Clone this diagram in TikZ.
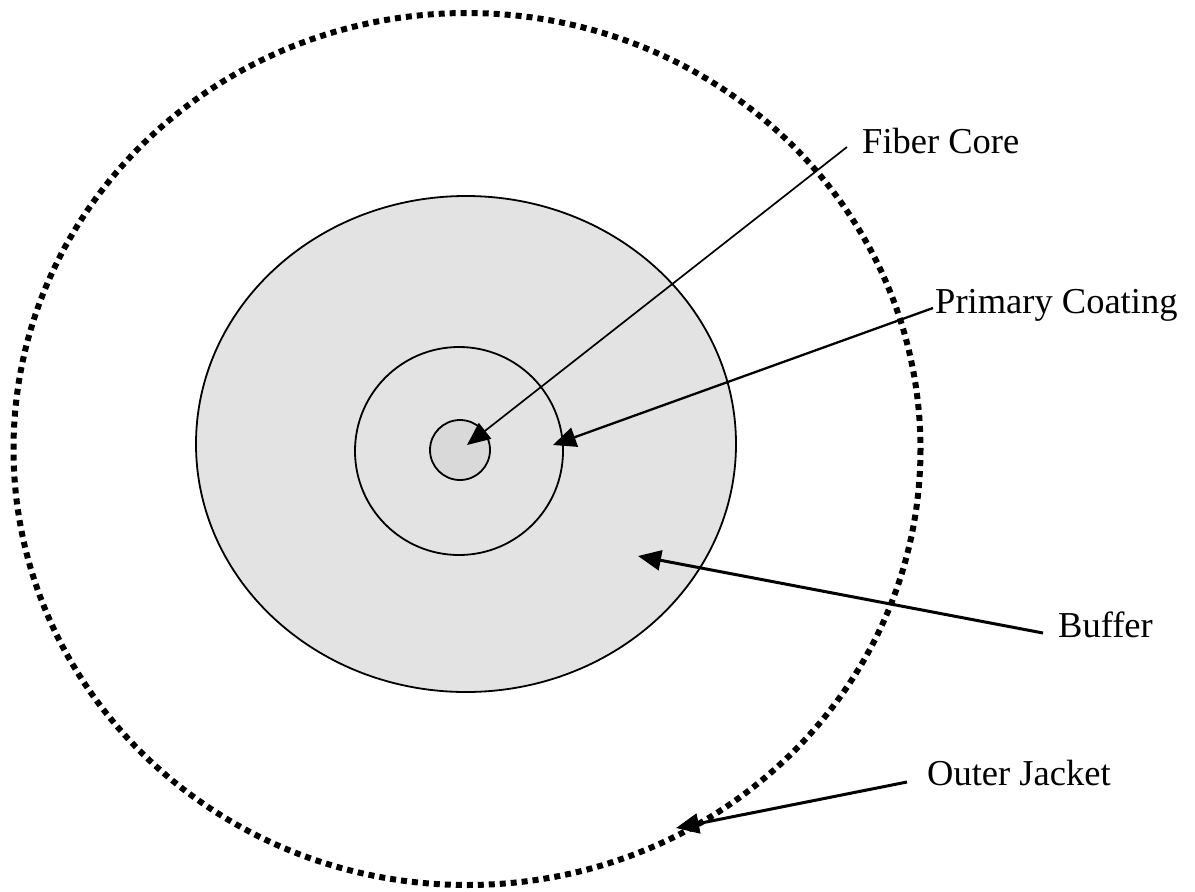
\documentclass[tikz,border=0pt]{standalone}
\usepackage{fontspec}
\setmainfont{Liberation Serif}
\usetikzlibrary{arrows.meta}
\definecolor{bufgray}{RGB}{227,227,227}
\definecolor{coregray}{RGB}{217,217,217}
\tikzset{
  lbl/.style={anchor=base west, inner sep=0pt, font=\fontsize{36.5}{40}\selectfont},
  ptr/.style={-{Triangle[length=23pt,width=20pt]}, line width=2pt},
  ring/.style={draw=black, line width=1.8pt},
  jacket/.style={draw=black, line width=6pt, dash pattern=on 6pt off 5pt}
}
\begin{document}
\begin{tikzpicture}[x=1pt,y=-1pt]
\useasboundingbox (0,0) rectangle (1195,892);
% shapes
\draw[jacket] (467,449) ellipse [x radius=453.5, y radius=436];
\draw[ring, fill=bufgray] (466,444) ellipse [x radius=270, y radius=248];
\draw[ring] (459,451) circle [radius=104];
\draw[ring, fill=coregray] (460,450) circle [radius=30];
% labels
\node[lbl] (fc) at (862,153) {Fiber Core};
\node[lbl] (pc) at (935,313) {Primary Coating};
\node[lbl] (bf) at (1058,637) {Buffer};
\node[lbl] (oj) at (927,785) {Outer Jacket};
% connector ends
\coordinate (fcs) at (847,147);
\coordinate (fct) at (467,445);
\coordinate (pcs) at (933,308);
\coordinate (pct) at (553,445);
\coordinate (bfs) at (1043,633);
\coordinate (bft) at (638,556);
\coordinate (ojs) at (907,782);
\coordinate (ojt) at (676,828);
% connectors
\draw[ptr, line width=1.7pt] (fcs) -- (fct);
\draw[ptr, line width=2.3pt] (pcs) -- (pct);
\draw[ptr, line width=3pt] (bfs) -- (bft);
\draw[ptr, line width=3pt] (ojs) -- (ojt);
\end{tikzpicture}
\end{document}
